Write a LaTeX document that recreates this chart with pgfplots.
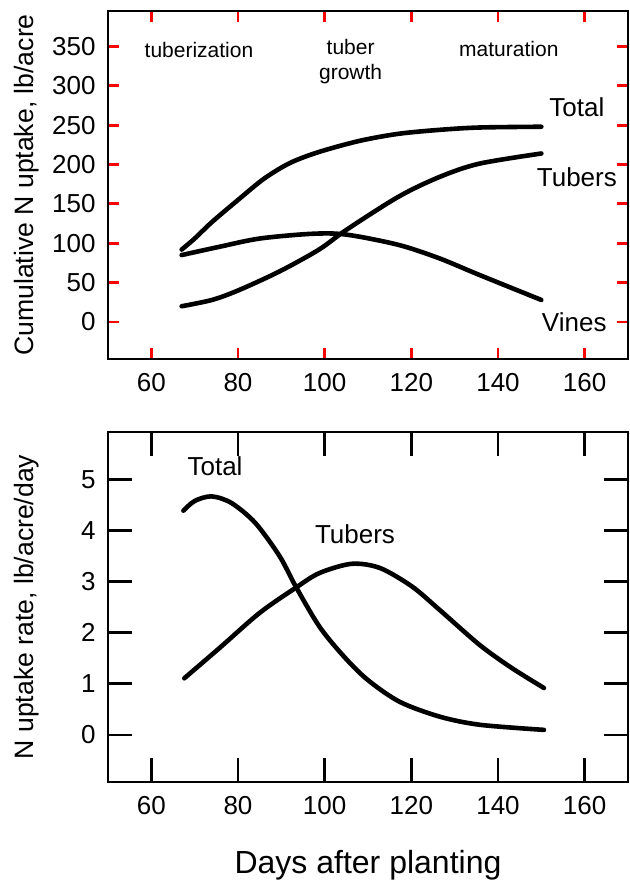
\documentclass[border=0pt]{standalone}
\usepackage{fontspec}
\setmainfont{Liberation Sans}
\usepackage{pgfplots}
\pgfplotsset{compat=1.18}
\begin{document}
\begin{tikzpicture}
\path[use as bounding box] (-54pt,-51pt) rectangle (260.5pt,391pt);
\pgfplotsset{
  curve/.style={black, line width=2.3pt, smooth, line cap=round, mark=none},
  myax/.style={
    width=260pt, scale only axis,
    xmin=50, xmax=170,
    xtick={60,80,...,160},
    tick align=inside,
    axis line style={line width=1.4pt},
    tick label style={font=\fontsize{13}{15}\selectfont},
    /pgf/number format/assume math mode=true,
    xticklabel style={yshift=-3.5pt},
    yticklabel style={xshift=-2.7pt},
    every axis y label/.style={at={(axis description cs:-0.157,0.5)}, rotate=90, anchor=center, font=\fontsize{13.3}{16}\selectfont},
    every axis x label/.style={at={(axis description cs:0.5,0)}, anchor=center, yshift=-41.5pt, font=\fontsize{16}{19}\selectfont},
  }
}
\begin{axis}[myax, at={(0,211.5pt)}, height=174pt,
  ymin=-47, ymax=395, ytick={0,50,...,350},
  ylabel={Cumulative N uptake, lb/acre},
  xmajorticks=true, ymajorticks=true, every major tick/.style={red, line width=1.4pt}, major tick length=5.5pt]
\addplot[curve] coordinates {(67,92) (70,106) (74,127) (80,155) (86,182) (92,202) (98.7,216) (108,230) (117,239) (126.4,244) (135.6,247) (150,248)};
\addplot[curve] coordinates {(67,20) (74,28) (80,40) (89.5,64) (98.7,92) (105,117) (117,159) (126.4,184) (135.6,201) (150,214)};
\addplot[curve] coordinates {(67,85) (75.7,95.5) (85,106) (97,112) (105,111) (117,98) (126.4,81) (135.6,60) (150,28)};
\node[font=\fontsize{10.5}{12}\selectfont] at (axis cs:71,346) {tuberization};
\node[font=\fontsize{10.5}{12.5}\selectfont, align=center] at (axis cs:106,331) {tuber\\growth};
\node[font=\fontsize{10.5}{12}\selectfont] at (axis cs:142.5,347) {maturation};
\node[font=\fontsize{13}{15}\selectfont] at (axis cs:158.2,273) {Total};
\node[font=\fontsize{13}{15}\selectfont] at (axis cs:158.2,184) {Tubers};
\node[font=\fontsize{13}{15}\selectfont] at (axis cs:157.6,0) {Vines};
\end{axis}
\begin{axis}[myax, at={(0,0)}, height=175pt,
  ymin=-0.92, ymax=5.93, ytick={0,1,...,5},
  ylabel={N uptake rate, lb/acre/day},
  xlabel={Days after planting},
  xmajorticks=true, ymajorticks=true, every major tick/.style={black, line width=1.4pt}, major tick length=12pt]
\addplot[curve] coordinates {(67.4,4.39) (70,4.58) (73.9,4.67) (78.5,4.54) (84,4.15) (89.6,3.50) (93.3,2.91) (98.8,2.12) (104.4,1.54) (109.9,1.08) (117.3,0.65) (126.5,0.36) (135.8,0.20) (150.6,0.10)};
\addplot[curve] coordinates {(67.6,1.11) (75.7,1.70) (85,2.39) (93.3,2.88) (98.8,3.17) (106.2,3.35) (112.7,3.27) (120.1,2.91) (126.5,2.45) (135.8,1.76) (143.2,1.31) (150.6,0.92)};
\node[font=\fontsize{13}{15}\selectfont] at (axis cs:74.7,5.26) {Total};
\node[font=\fontsize{13}{15}\selectfont] at (axis cs:107,3.92) {Tubers};
\end{axis}
\end{tikzpicture}
\end{document}
